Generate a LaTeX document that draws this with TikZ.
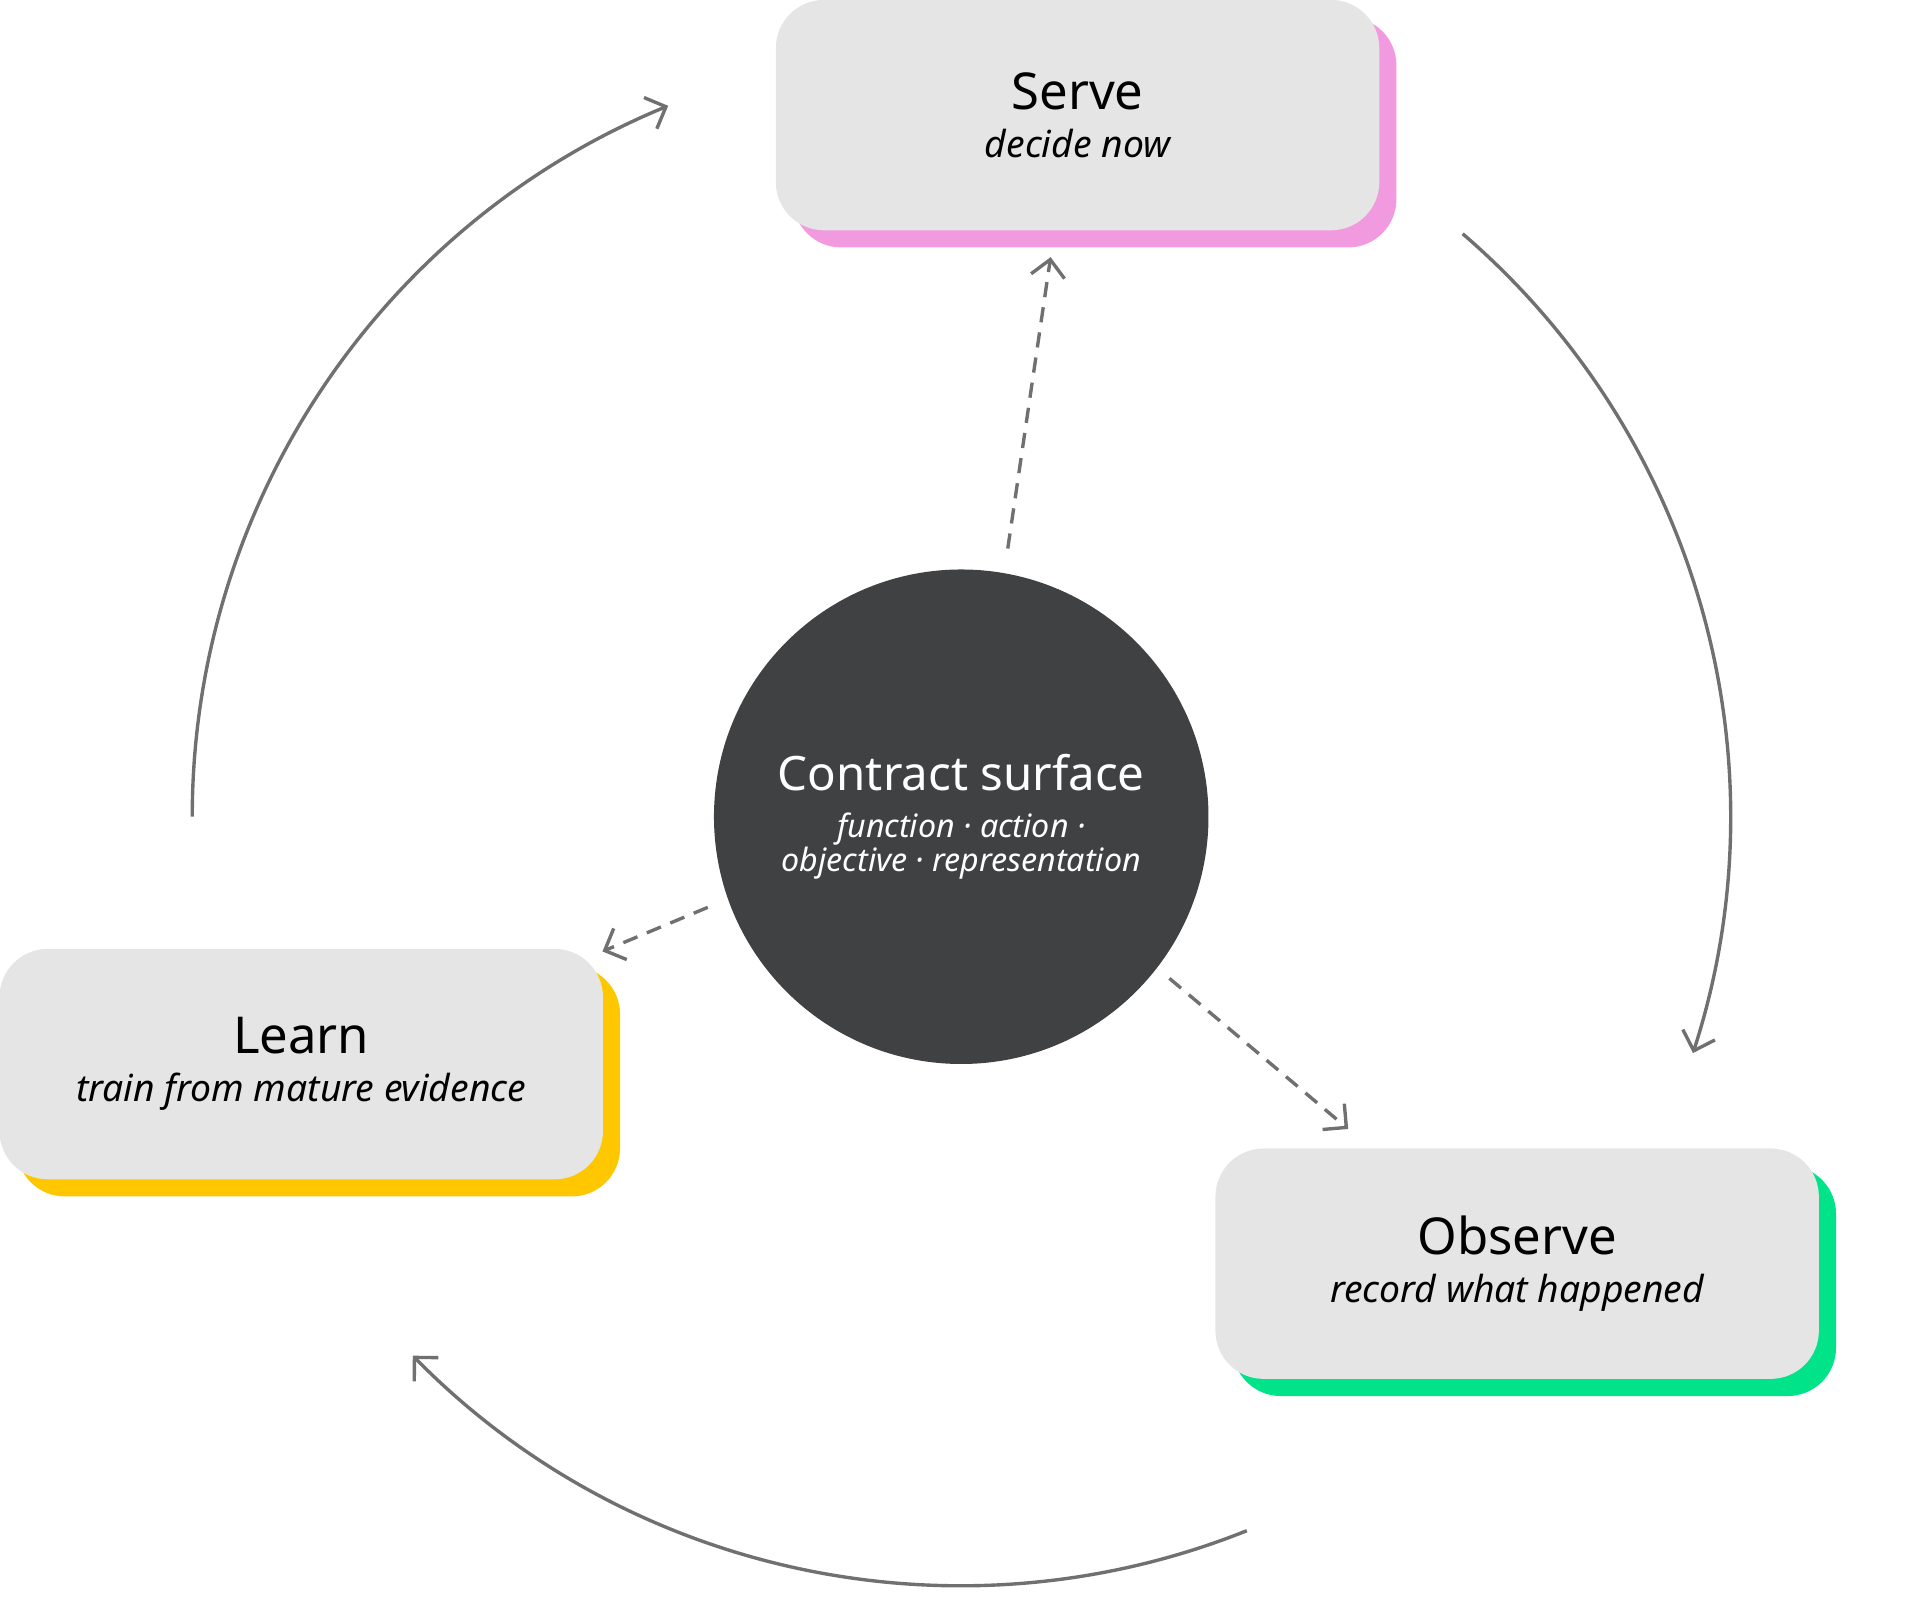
\documentclass[tikz,border=0pt]{standalone}
\usepackage{fontspec}
\setmainfont{Noto Sans}
\usetikzlibrary{arrows.meta,positioning}

\definecolor{boxgray}{HTML}{E5E5E5}
\definecolor{hubgray}{HTML}{404143}
\definecolor{linegray}{HTML}{707070}
\definecolor{servepink}{HTML}{F29ADF}
\definecolor{learnyellow}{HTML}{FFC700}
\definecolor{observegreen}{HTML}{00E389}

\begin{document}
\begin{tikzpicture}[x=0.0254cm, y=-0.0254cm]
	\tikzstyle{stepStyle}=[rectangle, rounded corners=1cm, minimum width=12.52cm, minimum height=4.78cm, fill=boxgray, align=center, inner sep=0pt]
	\tikzstyle{shadowStyle}=[rectangle, rounded corners=1cm, minimum width=12.52cm, minimum height=4.78cm, inner sep=0pt]
	\tikzstyle{hubStyle}=[circle, minimum size=10.26cm, fill=hubgray, text=white, align=center, inner sep=0pt]
	\tikzstyle{cycleStyle}=[draw=linegray, line width=2pt, -{Straight Barb[length=3.5mm, width=7mm]}]
	\tikzstyle{linkStyle}=[cycleStyle, dash pattern=on 9pt off 6pt]
	\useasboundingbox (0,0) rectangle (1568,1325);
	% shadows
	\node[shadowStyle, fill=servepink] at (894,108) {};
	\node[shadowStyle, fill=learnyellow] at (260,883) {};
	\node[shadowStyle, fill=observegreen] at (1253,1046) {};
	% steps
	\node[stepStyle] (serve) at (880,94) {{\fontsize{30}{36}\selectfont Serve}\\[10pt]{\fontsize{22}{26}\selectfont\itshape decide now}};
	\node[stepStyle] (learn) at (246,869) {{\fontsize{30}{36}\selectfont Learn}\\[10pt]{\fontsize{22}{26}\selectfont\itshape train from mature evidence}};
	\node[stepStyle] (observe) at (1239,1032) {{\fontsize{30}{36}\selectfont Observe}\\[10pt]{\fontsize{22}{26}\selectfont\itshape record what happened}};
	\node[hubStyle] (hub) at (785,667) {{\fontsize{28}{34}\selectfont Contract surface}\\[12pt]{\fontsize{19}{28}\selectfont\itshape function · action ·}\\{\fontsize{19}{28}\selectfont\itshape objective · representation}};
	% cycle
	\coordinate (c) at (785,667);
	\draw[cycleStyle] ([shift={(180:628)}]c) arc[start angle=180, end angle=247.6, radius=628];
	\draw[cycleStyle] ([shift={(310.7:628)}]c) arc[start angle=310.7, end angle=377.9, radius=628];
	\draw[cycleStyle] ([shift={(68.2:628)}]c) arc[start angle=68.2, end angle=135.5, radius=628];
	% links
	\coordinate (s0) at (823,448);
	\coordinate (s1) at (858,210);
	\coordinate (l0) at (578,741);
	\coordinate (l1) at (492,777);
	\coordinate (o0) at (955,799);
	\coordinate (o1) at (1101,922);
	\draw[linkStyle] (s0) -- (s1);
	\draw[linkStyle] (l0) -- (l1);
	\draw[linkStyle] (o0) -- (o1);
\end{tikzpicture}
\end{document}
